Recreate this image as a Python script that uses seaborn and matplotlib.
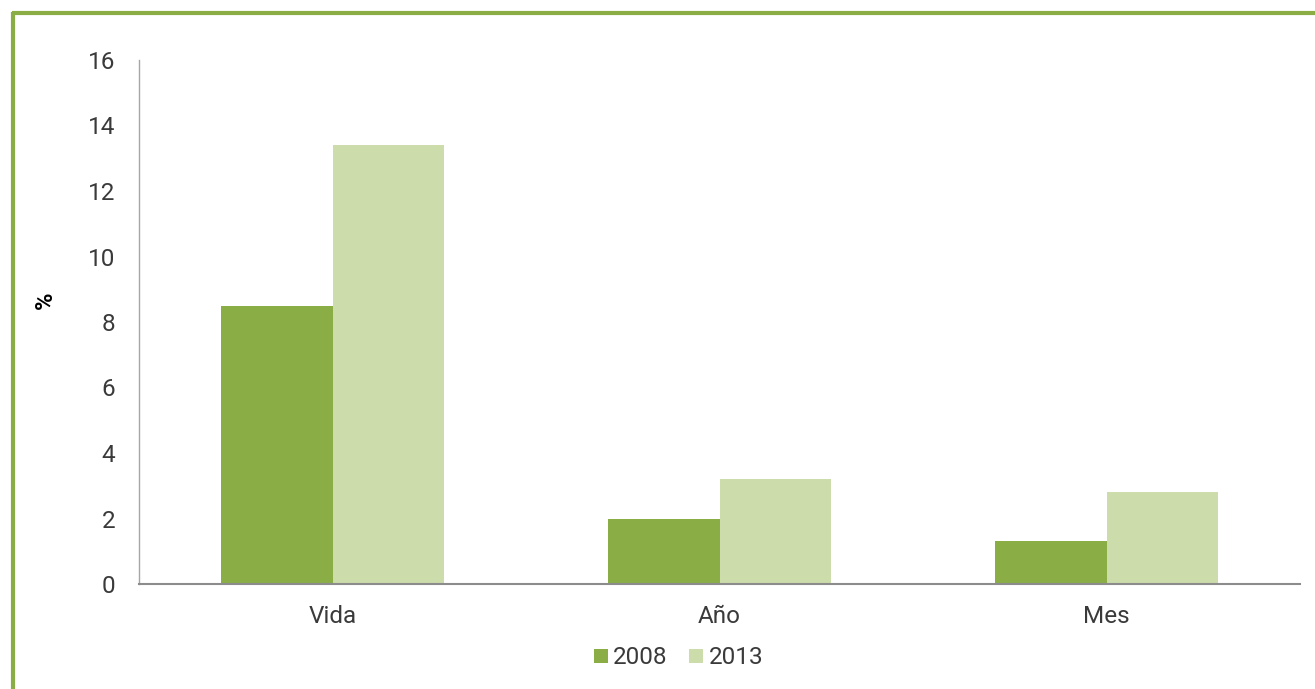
import matplotlib
matplotlib.use("Agg")
import matplotlib.pyplot as plt
from matplotlib.lines import Line2D
import pandas as pd
import seaborn as sns

# data
categories = ["Vida", "Año", "Mes"]
years = ["2008", "2013"]
values_2008 = [8.5, 2.0, 1.3]
values_2013 = [13.4, 3.2, 2.8]
y_ticks = [0, 2, 4, 6, 8, 10, 12, 14, 16]

COLORS = {"2008": "#8aad46", "2013": "#ccdcab"}
FRAME = "#8aad46"
TEXT = "#3a3a3a"

df = pd.DataFrame({
    "cat": categories * 2,
    "year": [years[0]] * 3 + [years[1]] * 3,
    "val": values_2008 + values_2013,
})

sns.set_theme(style="white")
plt.rcParams["font.family"] = ["Roboto", "DejaVu Sans"]

fig = plt.figure(figsize=(13.15, 6.89), dpi=100)
ax = fig.add_axes([139 / 1315, 105 / 689, 1161 / 1315, 524 / 689])

sns.barplot(data=df, x="cat", y="val", hue="year", palette=COLORS,
            width=0.574, saturation=1, ax=ax, legend=False,
            edgecolor="none", linewidth=0)

ax.set_xlim(-0.5, 2.5)
ax.set_ylim(0, 16)
ax.set_yticks(y_ticks)
ax.set_xlabel("")
ax.set_ylabel("%", fontsize=17, fontweight="bold", color="black", va="center")
ax.yaxis.set_label_coords(-0.081, 0.542)
ax.tick_params(axis="both", length=0, labelsize=17.5, colors=TEXT)
ax.tick_params(axis="y", pad=17)
ax.tick_params(axis="x", pad=15)

sns.despine(ax=ax)
ax.spines["left"].set_color("#a6a6a6")
ax.spines["bottom"].set_color("#8c8c8c")
ax.spines["left"].set_linewidth(1)
ax.spines["bottom"].set_linewidth(1.5)

handles = [Line2D([], [], marker="s", linestyle="none", markersize=10,
                  markerfacecolor=COLORS[y], markeredgewidth=0) for y in years]
leg = ax.legend(handles, years, loc="center", bbox_to_anchor=(677 / 1315, 31 / 689),
                bbox_transform=fig.transFigure, ncol=2, frameon=False,
                fontsize=17.5, handletextpad=0.1, columnspacing=0.8,
                handlelength=0.8)
for t in leg.get_texts():
    t.set_color(TEXT)

# green frame on top and left
fig.add_artist(Line2D([12 / 1315, 1], [1 - 13 / 689, 1 - 13 / 689],
                      transform=fig.transFigure, color=FRAME, linewidth=3,
                      solid_capstyle="butt"))
fig.add_artist(Line2D([13 / 1315, 13 / 1315], [0, 1 - 11.5 / 689],
                      transform=fig.transFigure, color=FRAME, linewidth=3,
                      solid_capstyle="butt"))

fig.savefig("out.png", dpi=100)
